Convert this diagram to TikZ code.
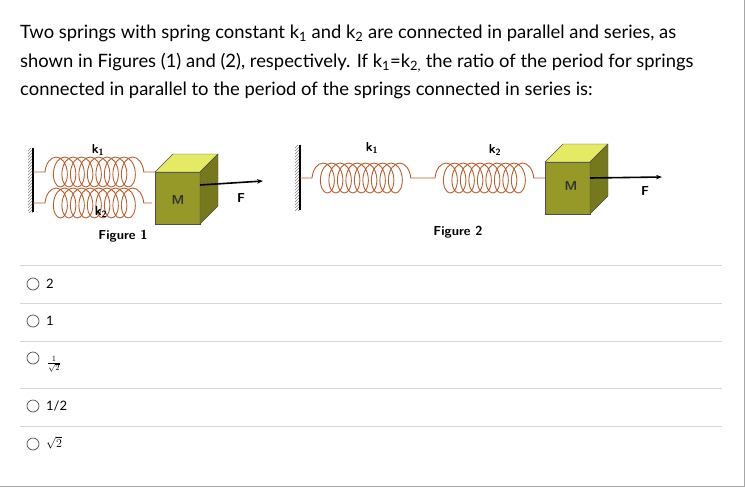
\documentclass[tikz,border=0pt]{standalone}
\usepackage{fontspec}
\setmainfont{Lato}
\usetikzlibrary{decorations.pathmorphing,patterns,arrows.meta}
\definecolor{springc}{RGB}{185,95,45}
\definecolor{fr}{RGB}{150,152,40}
\definecolor{tp}{RGB}{228,234,100}
\definecolor{sd}{RGB}{118,120,30}
\definecolor{sep}{RGB}{215,215,215}
\tikzset{
 spr/.style={springc,line width=0.9pt,decorate,decoration={coil,aspect=0.6,amplitude=15pt,segment length=8.5pt,pre length=12pt,post length=8pt}},
 wallc/.style={line width=1.6pt},
 lbl/.style={font=\bfseries\sffamily\fontsize{13}{15}\selectfont},
 opt/.style={anchor=west,inner sep=0pt,font=\fontsize{13}{15}\selectfont},
 rad/.style={draw=black!70,line width=0.7pt,circle,minimum size=12pt,inner sep=0pt},
 sepl/.style={sep,line width=0.8pt}
}
\newcommand{\blk}[3]{% x y name
 \fill[fr,draw=black!70] (#1,#2) rectangle ++(45,52);
 \fill[tp,draw=black!70] (#1,#2) -- ++(18,-18) -- ++(45,0) -- ++(-18,18) -- cycle;
 \fill[sd,draw=black!70] (#1+45,#2) -- ++(18,-18) -- ++(0,52) -- ++(-18,18) -- cycle;
 \coordinate (#3) at (#1,#2+26);
}
\begin{document}
\begin{tikzpicture}[x=1pt,y=-1pt]
\useasboundingbox (0,0) rectangle (745,488);
\draw[gray!70,line width=1pt] (744,0) -- (744,486) -- (0,486);
\node[anchor=west,align=left,font=\fontsize{18.4}{28.5}\selectfont,inner sep=0pt] (q) at (20,62)
 {Two springs with spring constant k\textsubscript{1} and k\textsubscript{2} are connected in parallel and series, as\\
 shown in Figures (1) and (2), respectively. If k\textsubscript{1}=k\textsubscript{2,} the ratio of the period for springs\\
 connected in parallel to the period of the springs connected in series is:};
% figure 1
\fill[pattern=north east lines,pattern color=gray] (28,148) rectangle (33,212);
\draw[wallc] (33,148) -- (33,212);
\coordinate (w1a) at (33,172); \coordinate (w1b) at (33,203);
\blk{155}{172}{b1}
\coordinate (b1a) at (155,172); \coordinate (b1b) at (152,203);
\draw[spr] (w1a) -- (b1a);
\draw[spr] (w1b) -- (b1b);
\node[lbl] (k1a) at (98,150) {k\textsubscript{1}};
\node[lbl] (k2a) at (101,212) {k\textsubscript{2}};
\node[lbl,text=black!80] (m1) at (178,200) {M};
\coordinate (a1s) at (200,185); \coordinate (a1e) at (263,181);
\draw[line width=1.6pt,-{Stealth[length=6pt]}] (a1s) -- (a1e);
\node[lbl] (f1) at (241,198) {F};
\node[lbl] (fig1) at (123,236) {Figure 1};
% figure 2
\fill[pattern=north east lines,pattern color=gray] (295,145) rectangle (300,210);
\draw[wallc] (300,145) -- (300,210);
\coordinate (w2) at (300,178); \coordinate (mid) at (423,178);
\blk{545}{162}{b2}
\coordinate (b2a) at (545,178);
\draw[spr] (w2) -- (mid);
\draw[spr] (mid) -- (b2a);
\node[lbl] (k1b) at (372,148) {k\textsubscript{1}};
\node[lbl] (k2b) at (495,150) {k\textsubscript{2}};
\node[lbl,text=black!80] (m2) at (571,186) {M};
\coordinate (a2s) at (590,178); \coordinate (a2e) at (662,177);
\draw[line width=1.6pt,-{Stealth[length=6pt]}] (a2s) -- (a2e);
\node[lbl] (f2) at (645,191) {F};
\node[lbl] (fig2) at (458,232) {Figure 2};
% options
\foreach \y in {265,303,341,388,426} \draw[sepl] (20,\y) -- (722,\y);
\node[rad] (r1) at (33,284) {}; \node[opt] (o1) at (46,284) {2};
\node[rad] (r2) at (33,321) {}; \node[opt] (o2) at (46,321) {1};
\node[rad] (r3) at (33,358) {}; \node[opt,font=\fontsize{11}{13}\selectfont] (o3) at (47,364) {$\frac{1}{\sqrt{2}}$};
\node[rad] (r4) at (33,406) {}; \node[opt] (o4) at (46,406) {1/2};
\node[rad] (r5) at (33,444) {}; \node[opt] (o5) at (46,443) {$\sqrt{2}$};
\end{tikzpicture}
\end{document}
